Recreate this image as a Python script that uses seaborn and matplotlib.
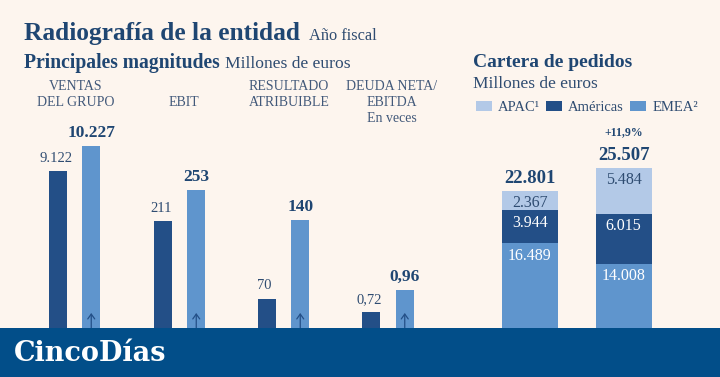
import matplotlib
matplotlib.use('Agg')
import matplotlib.pyplot as plt
from matplotlib.patches import Patch, Rectangle
import pandas as pd
import seaborn as sns

# --- datos ---
periodos = ['Año anterior', 'Año actual']
magnitudes = [['VENTAS', 'DEL GRUPO'], ['', 'EBIT'], ['RESULTADO', 'ATRIBUIBLE'],
              ['DEUDA NETA/', 'EBITDA', 'En veces']]
ventas = [9122, 10227]
ebit = [211, 253]
resultado = [70, 140]
deuda = [0.72, 0.96]

regiones = ['APAC¹', 'Américas', 'EMEA²']
apac = [2367, 5484]
americas = [3944, 6015]
emea = [16489, 14008]
totales = [22801, 25507]
variacion = '+11,9%'

# --- estilo ---
W, H = 720, 377
FONDO = '#fdf5ee'
BANNER = '#024e89'
OSCURO = '#234f87'
CLARO = '#5f95cd'
PALIDO = '#b3c9e7'
TITULO = '#1f4672'
TEXTO = '#2f4c71'
GRIS = '#42597a'

sns.set_style('white')
plt.rcParams['font.family'] = ['Liberation Serif', 'DejaVu Serif']


def fmt(v):
    if v < 10:
        return f'{v:.2f}'.replace('.', ',')
    return f'{v:,.0f}'.replace(',', '.')


def px(x, y):
    return x / W, 1 - y / H


fig = plt.figure(figsize=(W / 100, H / 100), dpi=100, facecolor=FONDO)

# cabeceras
fig.text(*px(24, 40), 'Radiografía de la entidad', fontsize=18.3, fontweight='bold',
         color=TITULO, va='baseline')
fig.text(*px(309, 40), 'Año fiscal', fontsize=11.8, color=TEXTO, va='baseline')
fig.text(*px(24, 68), 'Principales magnitudes', fontsize=14.1, fontweight='bold',
         color=TITULO, va='baseline')
fig.text(*px(225, 68), 'Millones de euros', fontsize=12.6, color=TEXTO, va='baseline')
fig.text(*px(473, 67), 'Cartera de pedidos', fontsize=14, fontweight='bold',
         color=TITULO, va='baseline')
fig.text(*px(473, 88), 'Millones de euros', fontsize=12.5, color=TEXTO, va='baseline')

# --- magnitudes principales: una escala por grupo ---
series = [ventas, ebit, resultado, deuda]
lefts = [41, 146, 250, 354.5]
alturas_px = [231, 187, 157, 87]
centros_txt = [76, 184, 289, 392]
lineas_y = [86, 103, 119]

for vals, left, hpx, cx, nombre in zip(series, lefts, alturas_px, centros_txt, magnitudes):
    ax = fig.add_axes([left / W, 0, 67 / W, hpx / H])
    ax.set_facecolor('none')
    df = pd.DataFrame({'periodo': periodos, 'valor': vals})
    sns.barplot(data=df, x='periodo', y='valor', hue='periodo', palette=[OSCURO, CLARO],
                width=0.55, saturation=1, legend=False, linewidth=0, ax=ax)
    ax.set_xlim(-0.5, 1.5)
    ax.set_ylim(0, max(vals))
    ax.axis('off')
    for i, v in enumerate(vals):
        ax.annotate(fmt(v), xy=(i, v), xytext=(-1.5 if i == 0 else 0, 6.5),
                    textcoords='offset points',
                    ha='center', va='baseline', annotation_clip=False,
                    fontsize=12.5 if i == 1 else 10.5,
                    fontweight='bold' if i == 1 else 'normal',
                    color=TITULO if i == 1 else TEXTO)
    ax.annotate('', xy=(1, 64), xycoords=('data', 'figure pixels'),
                xytext=(1, 40), textcoords=('data', 'figure pixels'),
                arrowprops=dict(arrowstyle='->,head_length=0.35,head_width=0.25',
                                color=OSCURO, lw=0.9, shrinkA=0, shrinkB=0),
                annotation_clip=False)
    for linea, y in zip(nombre, lineas_y):
        fig.text(*px(cx, y), linea, fontsize=10, color=GRIS, ha='center', va='center')

# --- cartera de pedidos (barras apiladas) ---
axc = fig.add_axes([482.7 / W, -4 / H, 188 / W, 213 / H])
axc.set_facecolor('none')
cart = pd.DataFrame({'periodo': periodos, 'APAC': apac, 'Americas': americas, 'EMEA': emea})
cart['tope_apac'] = cart['APAC'] + cart['Americas'] + cart['EMEA']
cart['tope_americas'] = cart['Americas'] + cart['EMEA']
for col, color in [('tope_apac', PALIDO), ('tope_americas', OSCURO), ('EMEA', CLARO)]:
    sns.barplot(data=cart, x='periodo', y=col, color=color, saturation=1,
                width=0.596, linewidth=0, ax=axc)
axc.set_xlim(-0.5, 1.5)
axc.set_ylim(0, max(cart['tope_apac']))
axc.axis('off')

for i, row in cart.iterrows():
    for top, val, col in [(row['tope_apac'], row['APAC'], TEXTO),
                          (row['tope_americas'], row['Americas'], 'white'),
                          (row['EMEA'], row['EMEA'], 'white')]:
        axc.annotate(fmt(val), xy=(i, top), xytext=(0, -8.8), textcoords='offset points',
                     ha='center', va='center', fontsize=11.5, color=col)
    axc.annotate(fmt(totales[i]), xy=(i, row['tope_apac']), xytext=(0, 5.5),
                 textcoords='offset points', ha='center', va='baseline',
                 fontsize=13.5, fontweight='bold', color=TITULO, annotation_clip=False)
axc.annotate(variacion, xy=(1, cart['tope_apac'].iloc[1]), xytext=(0, 23.4),
             textcoords='offset points', ha='center', va='baseline',
             fontsize=8.5, fontweight='bold', color=TITULO, annotation_clip=False)

handles = [Patch(facecolor=c, edgecolor='none') for c in [PALIDO, OSCURO, CLARO]]
fig.legend(handles, regiones, loc='center left', bbox_to_anchor=px(475.5, 107.5),
           ncol=3, frameon=False, fontsize=10.5, handlelength=1.1, handleheight=0.7,
           handletextpad=0.4, columnspacing=0.45, borderpad=0, borderaxespad=0,
           labelcolor=TEXTO)

# banda inferior con la cabecera del periódico
fig.add_artist(Rectangle((0, 0), 1, 49 / H, transform=fig.transFigure,
                         facecolor=BANNER, edgecolor='none', zorder=10))
fig.text(*px(14, 361), 'CincoDías', fontsize=19.5, fontweight='bold', color='white',
         va='baseline', family=['DejaVu Serif'], zorder=11)

fig.savefig('out.png', dpi=100, facecolor=FONDO)
